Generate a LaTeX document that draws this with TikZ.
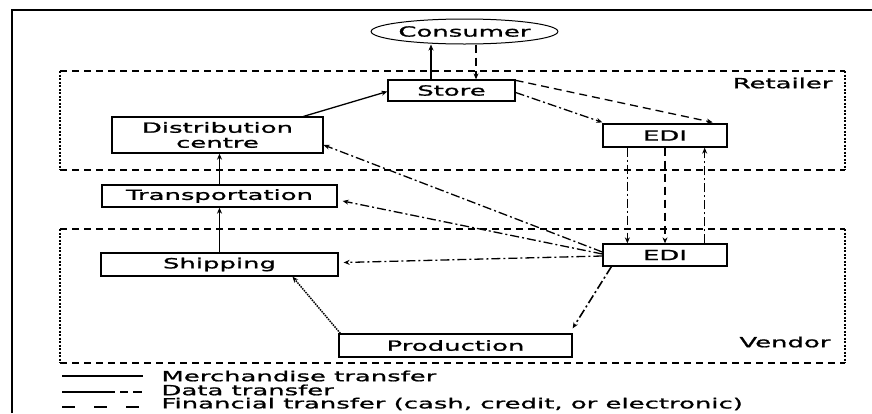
\documentclass[tikz,border=0pt]{standalone}
\usepackage{fontspec}
\setmainfont[FakeStretch=1.85, FakeBold=1.2]{DejaVu Sans}
\usetikzlibrary{arrows.meta,shapes.geometric}

\begin{document}
\begin{tikzpicture}[x=1pt, y=-1pt, font=\fontsize{14}{15}\selectfont,
  box/.style={draw, line width=1.3pt, inner sep=0pt},
  merch/.style={-{Stealth[length=6pt,width=5pt]}, line width=1.3pt},
  data/.style={merch, dash pattern=on 9pt off 3pt on 2pt off 3pt},
  money/.style={merch, dash pattern=on 8pt off 5pt},
  goods/.style={merch, line width=1.5pt, dash pattern=on 1.5pt off 1pt},
  region/.style={line width=1.3pt, dash pattern=on 7pt off 5pt},
  regionside/.style={line width=2pt, dash pattern=on 2pt off 1.5pt}]

\useasboundingbox (0,0) rectangle (872,413);

% ---- Outer frame ----
\draw[line width=1.6pt] (12,413) -- (12,10) -- (872,10);

% ---- Retailer and vendor regions ----
\draw[region] (60,71) -- (845,71);
\draw[region] (60,170) -- (845,170);
\draw[regionside] (60,71) -- (60,170);
\draw[regionside] (845,71) -- (845,170);
\node[anchor=east] (retailer) at (836,83) {Retailer};

\draw[region] (60,229) -- (845,229);
\draw[region] (60,363) -- (845,363);
\draw[regionside] (60,229) -- (60,363);
\draw[regionside] (845,229) -- (845,363);
\node[anchor=east] (vendor) at (834,342) {Vendor};

% ---- Nodes ----
\node[draw, ellipse, line width=1pt, inner sep=0pt,
      minimum width=185pt, minimum height=25pt] (consumer) at (464.5,31.5) {Consumer};
\node[box, minimum width=127pt, minimum height=21pt] (store) at (451.5,90.5) {Store};
\node[box, minimum width=211pt, minimum height=36pt, align=center] (dc) at (217.5,135) {Distribution\\centre};
\node[box, minimum width=235pt, minimum height=22pt] (trans) at (219.5,196) {Transportation};
\node[box, minimum width=237pt, minimum height=23pt] (ship) at (219.5,264.5) {Shipping};
\node[box, minimum width=233pt, minimum height=23pt] (prod) at (455.5,345.5) {Production};
\node[box, minimum width=124pt, minimum height=23pt] (edir) at (665,135.5) {EDI};
\node[box, minimum width=124pt, minimum height=22pt] (ediv) at (665,255) {EDI};

% ---- Merchandise flow ----
\draw[goods] ([xshift=2pt]prod.north west) -- ([xshift=73pt]ship.south);
\draw[merch] (ship.north) -- (ship.north |- trans.south);
\draw[merch] (trans.north) -- (trans.north |- dc.south);
\draw[merch] ([xshift=-20pt]dc.north east) -- ([yshift=-1pt]store.west);
\draw[merch] ([xshift=-20.5pt]store.north) -- ([xshift=-20.5pt]store.north |- consumer.south);

% ---- Consumer payment ----
\draw[money] ([xshift=11.5pt]consumer.south) -- ([xshift=11.5pt]consumer.south |- store.north);

% ---- Store to retailer EDI ----
\draw[data] ([yshift=-2pt]store.east) -- ([yshift=1pt]edir.north west);
\draw[money] ([yshift=-1pt]store.north east) -- ([xshift=-15pt, yshift=1pt]edir.north east);

% ---- Retailer EDI <-> vendor EDI ----
\draw[data, line width=1.6pt] ([xshift=25pt]edir.south west) -- ([xshift=25pt]edir.south west |- ediv.north);
\draw[money, line width=1.6pt] (edir.south) -- (edir.south |- ediv.north);
\draw[data, line width=1.6pt] ([xshift=-23pt]ediv.north east) -- ([xshift=-23pt]ediv.north east |- edir.south);

% ---- Vendor EDI instructions ----
\draw[data] ([yshift=3pt]ediv.west) -- ([yshift=-10pt]dc.east);
\draw[data] ([yshift=1pt]ediv.west) -- ([xshift=5pt, yshift=-5pt]trans.east);
\draw[data] ([yshift=-1pt]ediv.west) -- ([xshift=5pt, yshift=2pt]ship.east);
\draw[data, line width=1.6pt] ([xshift=9pt]ediv.south west) -- ([yshift=5pt]prod.north east);

% ---- Legend ----
\node[anchor=west] (lgmerch) at (158,376) {Merchandise transfer};
\node[anchor=west] (lgdata) at (158,390) {Data transfer};
\node[anchor=west] (lgmoney) at (158,404) {Financial transfer (cash, credit, or electronic)};
\coordinate (lgstart1) at (62,376);
\coordinate (lgstart2) at (62,392);
\coordinate (lgstart3) at (62,407);
\draw[line width=1.3pt] (lgstart1) -- (lgstart1 -| 143,0);
\draw[line width=1.3pt, dash pattern=on 53pt off 5pt on 8pt off 5pt on 9pt] (lgstart2) -- (lgstart2 -| 143,0);
\draw[line width=1.3pt, dash pattern=on 13pt off 19pt] (lgstart3) -- (lgstart3 -| 143,0);

\end{tikzpicture}
\end{document}
